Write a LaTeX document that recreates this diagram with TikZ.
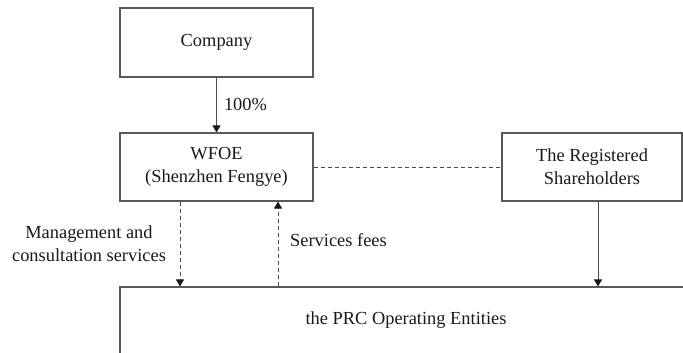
\documentclass[tikz,border=0pt]{standalone}
\usepackage{fontspec}
\setmainfont{Liberation Serif}
\usetikzlibrary{arrows.meta}
\begin{document}
\begin{tikzpicture}[x=1pt,y=-1pt,
  box/.style={draw=black!65,line width=1.1pt,rectangle,inner sep=0pt,align=center,text=black!90},
  arr/.style={draw=black!70,line width=1pt,-{Triangle[width=8pt,length=7pt,color=black!90]}},
  dasharr/.style={arr,dash pattern=on 4pt off 3pt},
  dline/.style={draw=black!70,line width=1pt,dash pattern=on 4pt off 3pt},
  lbl/.style={text=black!90,align=center,inner sep=0pt},
  every node/.append style={font=\fontsize{18.4}{23}\selectfont}]
\useasboundingbox (0,0) rectangle (683,353);
\node[box,minimum width=193pt,minimum height=69pt] (company) at (216.5,42.5) {Company};
\node[box,minimum width=193pt,minimum height=68pt] (wfoe) at (216.5,167) {WFOE\\(Shenzhen Fengye)};
\node[box,minimum width=180pt,minimum height=68pt] (sh) at (592,167) {The Registered\\Shareholders};
\node[box,minimum width=580pt,minimum height=113pt] (prc) at (410,343.5) {};
\node[lbl] (prclabel) at (406,320) {the PRC Operating Entities};
\draw[arr] (company.south) -- node[lbl,anchor=west,xshift=7pt] (pct) {100\%} (wfoe.north);
\draw[dline] (wfoe.east) -- (sh.west);
\draw[dasharr] ([xshift=-36.5pt]wfoe.south) -- ([xshift=-36.5pt]wfoe.south |- prc.north);
\draw[dasharr] ([xshift=61.5pt]wfoe.south |- prc.north) -- ([xshift=61.5pt]wfoe.south);
\draw[arr] ([xshift=6pt]sh.south) -- ([xshift=6pt]sh.south |- prc.north);
\node[lbl] (mgmt) at (89,244) {Management and\\consultation services};
\node[lbl,anchor=west] (fees) at (290,240) {Services fees};
\end{tikzpicture}
\end{document}
